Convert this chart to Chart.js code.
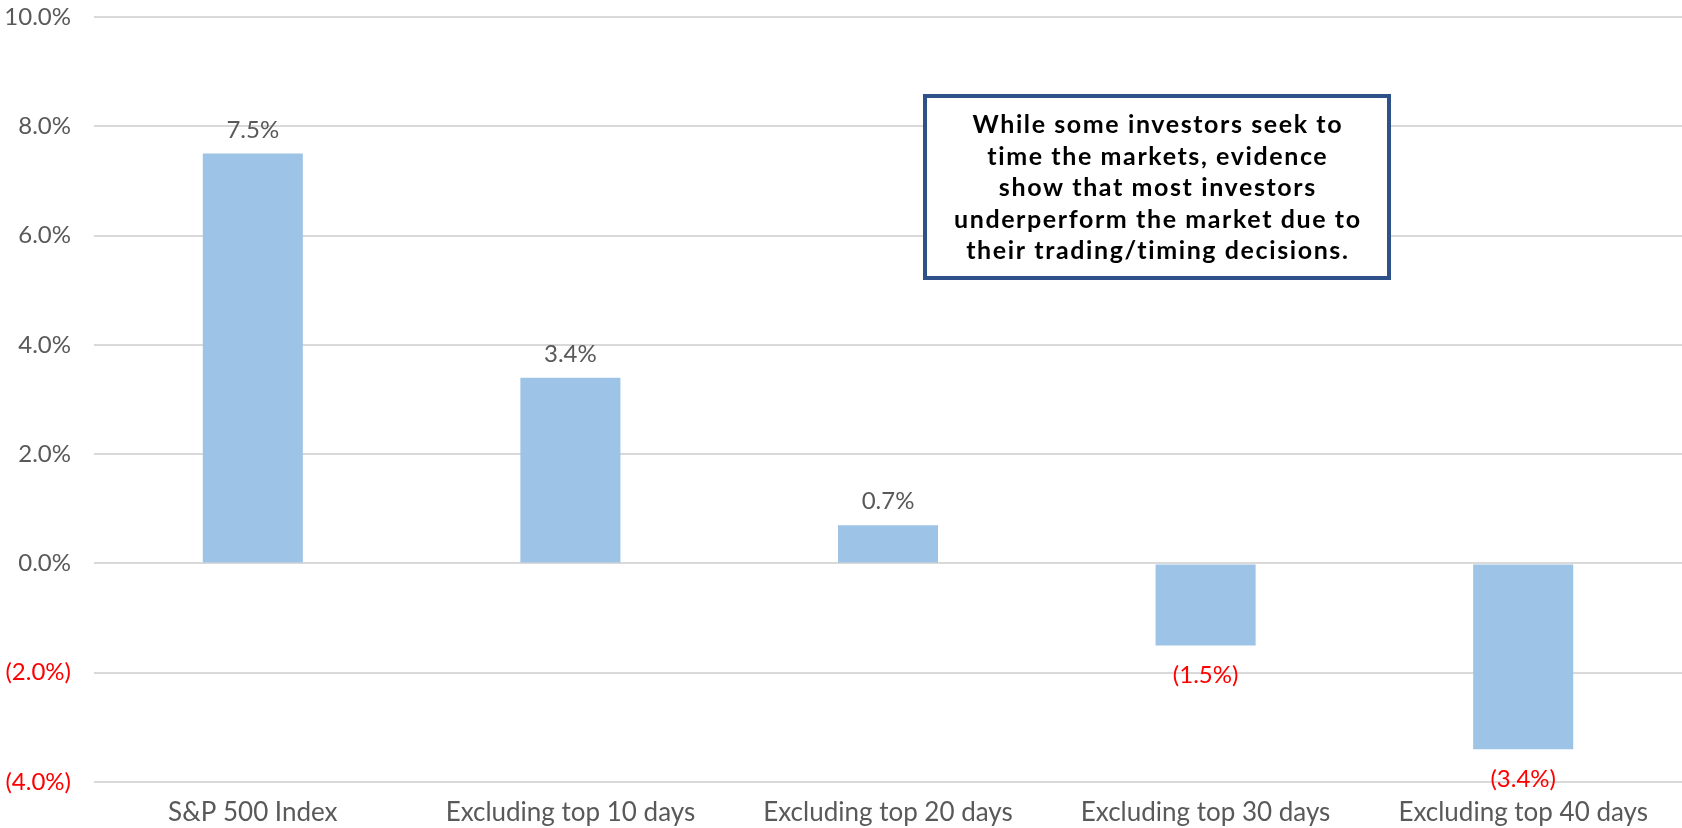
<!DOCTYPE html>
<html lang="en">
<head>
    <meta charset="UTF-8">
    <title>Annualized Return - Missing the Best Days</title>
    <script src="https://cdn.jsdelivr.net/npm/chart.js"></script>
    <style>
        body { margin: 0; background: #ffffff; }
        canvas { display: block; }
    </style>
</head>
<body>
    <canvas id="returnsChart" width="1682" height="828"></canvas>

    <script>
        const categories = ['S&P 500 Index', 'Excluding top 10 days', 'Excluding top 20 days', 'Excluding top 30 days', 'Excluding top 40 days'];
        const annualReturns = [7.5, 3.4, 0.7, -1.5, -3.4];
        const yMin = -4;
        const yMax = 10;
        const yStep = 2;
        const noteLines = [
            'While some investors seek to',
            'time the markets, evidence',
            'show that most investors',
            'underperform the market due to',
            'their trading/timing decisions.'
        ];

        const GRAY = '#595959';
        const RED = '#FF0000';
        const FONT = 'Lato, "Open Sans", sans-serif';

        // negatives shown accounting-style, e.g. (1.5%)
        function pct(v) {
            return v < 0 ? '(' + Math.abs(v).toFixed(1) + '%)' : v.toFixed(1) + '%';
        }

        // value labels above / below each bar
        const barLabels = {
            id: 'barLabels',
            afterDatasetsDraw(chart) {
                const ctx = chart.ctx;
                const meta = chart.getDatasetMeta(0);
                ctx.save();
                ctx.font = '24px ' + FONT;
                ctx.textAlign = 'center';
                ctx.textBaseline = 'alphabetic';
                meta.data.forEach((bar, i) => {
                    const v = annualReturns[i];
                    if (v < 0) {
                        ctx.fillStyle = RED;
                        ctx.fillText(pct(v), bar.x, bar.y + 38);
                    } else {
                        ctx.fillStyle = GRAY;
                        ctx.fillText(pct(v), bar.x, bar.y - 16);
                    }
                });
                ctx.restore();
            }
        };

        // boxed call-out in the upper right
        const noteBox = {
            id: 'noteBox',
            afterDraw(chart) {
                const ctx = chart.ctx;
                const x = 925, y = 96, w = 464, h = 182;
                ctx.save();
                ctx.fillStyle = '#ffffff';
                ctx.fillRect(x, y, w, h);
                ctx.strokeStyle = '#2F5189';
                ctx.lineWidth = 4;
                ctx.strokeRect(x, y, w, h);
                ctx.fillStyle = '#000000';
                ctx.font = 'bold 25px ' + FONT;
                ctx.letterSpacing = '1.6px';
                ctx.textAlign = 'center';
                ctx.textBaseline = 'alphabetic';
                noteLines.forEach((line, i) => {
                    ctx.fillText(line, x + w / 2 + 0.8, 133 + i * 31.5);
                });
                ctx.restore();
            }
        };

        new Chart(document.getElementById('returnsChart'), {
            type: 'bar',
            data: {
                labels: categories,
                datasets: [{
                    data: annualReturns,
                    backgroundColor: '#9DC3E6',
                    borderWidth: 0,
                    categoryPercentage: 1,
                    barPercentage: 0.315
                }]
            },
            options: {
                responsive: false,
                animation: false,
                layout: { padding: 0 },
                plugins: {
                    legend: { display: false },
                    tooltip: { enabled: false }
                },
                scales: {
                    x: {
                        grid: { display: false, drawTicks: false },
                        border: { display: false },
                        ticks: {
                            color: GRAY,
                            font: { family: FONT, size: 26 },
                            padding: 15,
                            maxRotation: 0
                        },
                        afterFit(scale) { scale.height = 46; }
                    },
                    y: {
                        min: yMin,
                        max: yMax,
                        grid: { color: '#D9D9D9', lineWidth: 2, drawTicks: false },
                        border: { display: false },
                        ticks: {
                            stepSize: yStep,
                            padding: 23,
                            font: { family: FONT, size: 24 },
                            color: (c) => c.tick.value < 0 ? RED : GRAY,
                            callback: (v) => pct(v)
                        },
                        afterFit(scale) {
                            scale.width = 94;
                            // tick padding is horizontal here; keep the plot close to the top
                            scale.paddingTop = 17;
                            scale.paddingBottom = 0;
                        }
                    }
                }
            },
            plugins: [barLabels, noteBox]
        });
    </script>
</body>
</html>
